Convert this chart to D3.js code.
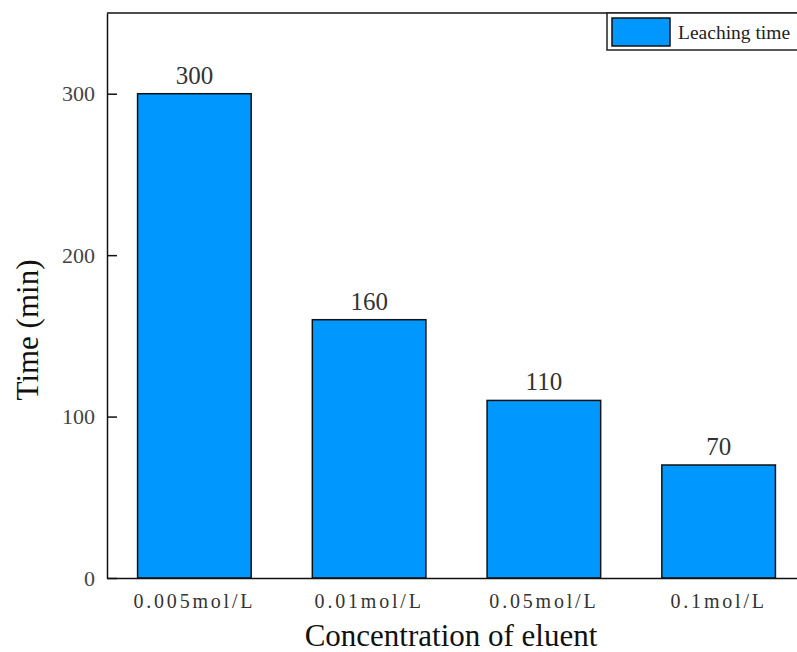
<!DOCTYPE html>
<html>
<head>
<meta charset="utf-8">
<script src="https://cdn.jsdelivr.net/npm/d3@7"></script>
<style>
  html, body { margin: 0; padding: 0; background: #fff; }
  svg { display: block; }
</style>
</head>
<body>
<div id="chart"></div>
<script>
// ── Data ────────────────────────────────────────────────────────────────────
const categories = ['0.005mol/L', '0.01mol/L', '0.05mol/L', '0.1mol/L'];
const leachingTime = [300, 160, 110, 70];
const yTicks = [0, 100, 200, 300];
const seriesName = 'Leaching time';

// ── Dimensions ──────────────────────────────────────────────────────────────
const W = 797, H = 652;
const margin = { top: 13, right: -9, bottom: 74, left: 107 };
const innerW = W - margin.left - margin.right;
const innerH = H - margin.top - margin.bottom;

const barColor = '#0098fe';
const serif = '"Liberation Serif", "Times New Roman", serif';

const svg = d3.select('#chart').append('svg')
  .attr('width', W)
  .attr('height', H);

const g = svg.append('g')
  .attr('transform', `translate(${margin.left},${margin.top})`);

// ── Scales ──────────────────────────────────────────────────────────────────
const x = d3.scaleBand()
  .domain(categories)
  .range([0, innerW])
  .paddingInner(0.35)
  .paddingOuter(0.175);

const y = d3.scaleLinear()
  .domain([0, 350])
  .range([innerH, 0]);

// Bars
g.selectAll('rect.bar')
  .data(leachingTime)
  .join('rect')
  .attr('class', 'bar')
  .attr('x', (d, i) => x(categories[i]))
  .attr('y', d => y(d))
  .attr('width', x.bandwidth())
  .attr('height', d => innerH - y(d))
  .attr('fill', barColor)
  .attr('stroke', '#111')
  .attr('stroke-width', 1.5);

// Value labels
g.selectAll('text.val')
  .data(leachingTime)
  .join('text')
  .attr('class', 'val')
  .attr('x', (d, i) => x(categories[i]) + x.bandwidth() / 2)
  .attr('y', d => y(d) - 10)
  .attr('text-anchor', 'middle')
  .attr('fill', '#333')
  .style('font-family', serif)
  .style('font-size', '25px')
  .text(d => d);

// Frame: top line
g.append('line')
  .attr('x1', 0).attr('x2', innerW)
  .attr('y1', 0).attr('y2', 0)
  .attr('stroke', '#111').attr('stroke-width', 1.5);

// Y axis (ticks inward)
g.append('g')
  .call(d3.axisLeft(y).tickValues(yTicks).tickSize(-10).tickSizeOuter(0).tickPadding(12))
  .call(ax => ax.select('.domain').attr('stroke', '#111').attr('stroke-width', 1.5))
  .call(ax => ax.selectAll('line').attr('stroke', '#111').attr('stroke-width', 1.5))
  .call(ax => ax.selectAll('text').attr('fill', '#444')
    .style('font-family', serif).style('font-size', '22px'));

// X axis
g.append('g')
  .attr('transform', `translate(0,${innerH})`)
  .call(d3.axisBottom(x).tickSize(0).tickPadding(16))
  .call(ax => ax.select('.domain').attr('stroke', '#111').attr('stroke-width', 1.5))
  .call(ax => ax.selectAll('text').attr('fill', '#333')
    .style('font-family', serif).style('font-size', '20px')
    .style('letter-spacing', '2.8px'));

// Axis titles
svg.append('text')
  .attr('x', margin.left + 344)
  .attr('y', 646)
  .attr('text-anchor', 'middle')
  .attr('fill', '#111')
  .style('font-family', serif)
  .style('font-size', '31px')
  .text('Concentration of eluent');

svg.append('text')
  .attr('transform', `translate(38,${330}) rotate(-90)`)
  .attr('text-anchor', 'middle')
  .attr('fill', '#111')
  .style('font-family', serif)
  .style('font-size', '31px')
  .text('Time (min)');

// Legend
const lg = svg.append('g').attr('transform', 'translate(607,13)');
lg.append('rect')
  .attr('x', 0).attr('y', 0)
  .attr('width', 200).attr('height', 37)
  .attr('fill', '#fff')
  .attr('stroke', '#222').attr('stroke-width', 1.5);
lg.append('rect')
  .attr('x', 5).attr('y', 5)
  .attr('width', 58).attr('height', 28)
  .attr('fill', barColor)
  .attr('stroke', '#111').attr('stroke-width', 1.5);
lg.append('text')
  .attr('x', 71).attr('y', 26)
  .attr('fill', '#222')
  .style('font-family', serif)
  .style('font-size', '19.5px')
  .text(seriesName);
</script>
</body>
</html>
